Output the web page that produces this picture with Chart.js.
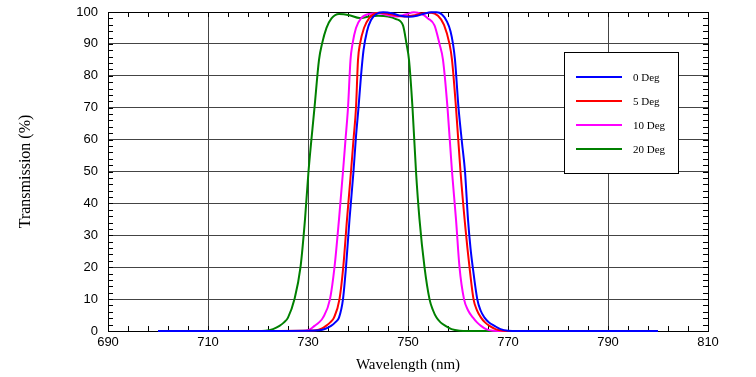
<!DOCTYPE html>
<html>
<head>
<meta charset="utf-8">
<script src="https://cdn.jsdelivr.net/npm/chart.js@4.4.0/dist/chart.umd.min.js"></script>
<style>
  html, body { margin: 0; padding: 0; background: #fff; }
</style>
</head>
<body>
<canvas id="filter-plot" width="756" height="377"></canvas>
<script>
const seriesLabels = ['0 Deg', '5 Deg', '10 Deg', '20 Deg'];
const seriesColors = ['#0000ff', '#ff0000', '#ff00ff', '#008000'];
const xTicks = [690, 710, 730, 750, 770, 790, 810];
const yTicks = [0, 10, 20, 30, 40, 50, 60, 70, 80, 90, 100];

// 0 Deg
const wl0 = [700, 725, 730, 732.3, 733.5, 734.6, 735.5, 736.2, 737.0, 737.6, 738.3, 739.1, 739.6, 740.1, 740.6, 741.1, 741.8, 742.6, 743.6, 745.0, 747.0, 748.5, 750.3, 751.8, 753.3, 754.7, 755.7, 756.8, 757.8, 758.5, 759.0, 759.4, 760.1, 760.8, 761.4, 762.0, 762.5, 762.95, 763.85, 764.5, 765.3, 766.2, 767.3, 768.5, 770, 772, 780, 800];
const tr0 = [0, 0, 0.05, 0.2, 0.7, 1.6, 2.8, 4.2, 10, 20, 35, 50, 61, 70, 80, 88, 94, 97.5, 99.3, 99.9, 99.5, 98.8, 98.5, 98.8, 99.5, 99.9, 99.9, 99.2, 97, 94, 90, 85, 70, 59, 50, 35, 26, 20, 10, 6.5, 4.2, 2.7, 1.6, 0.6, 0.1, 0, 0, 0];

// 5 Deg
const wl5 = [700, 724, 729, 731.6, 732.7, 733.6, 734.5, 735.2, 736.3, 737.05, 737.8, 738.6, 739.1, 739.6, 740.0, 740.4, 741.2, 742.2, 743.5, 744.3, 746.5, 749.3, 751.0, 753.0, 754.6, 756.0, 757.2, 758.3, 758.8, 759.6, 760.5, 761.5, 762.3, 763.1, 763.8, 764.6, 765.4, 766.3, 767.5, 769, 771, 780, 800];
const tr5 = [0, 0, 0.05, 0.2, 0.7, 1.6, 2.8, 4.2, 10, 20, 35, 50, 60, 70, 85, 90, 95, 98, 99.6, 99.8, 99.3, 98.6, 98.9, 99.6, 99.8, 98.8, 96, 90, 85, 70, 50, 32, 20, 10, 6.5, 4.2, 2.7, 1.6, 0.6, 0.1, 0, 0, 0];

// 10 Deg
const wl10 = [700, 722, 728, 729.6, 730.5, 731.3, 732.2, 733.0, 734.4, 735.3, 736.2, 737.0, 737.5, 738.0, 738.5, 738.9, 739.6, 740.6, 742.3, 744.0, 746.0, 747.8, 749.5, 751.2, 752.7, 754.0, 755.3, 756.3, 757.0, 757.9, 758.8, 759.6, 760.3, 761.2, 762.0, 763.0, 763.8, 764.6, 765.6, 767, 769, 780, 800];
const tr10 = [0, 0, 0.02, 0.1, 0.6, 1.6, 2.7, 4.2, 10, 20, 35, 50, 60, 70, 85, 90, 95, 98, 99.4, 99.6, 99.0, 98.6, 99.2, 99.9, 99.4, 98, 95.8, 90, 85, 70, 50, 35, 20, 10, 6.5, 4.2, 2.7, 1.6, 0.6, 0.1, 0, 0, 0];

// 20 Deg
const wl20 = [700, 716, 719.5, 721.5, 723.0, 724.3, 725.2, 726.0, 727.3, 728.5, 729.4, 730.1, 731.3, 732.2, 732.8, 733.7, 734.7, 736.2, 738.3, 740.3, 742.3, 744.0, 746.0, 747.6, 749.0, 749.7, 750.2, 750.9, 751.6, 752.3, 753.3, 754.3, 755.0, 755.7, 756.5, 757.5, 758.7, 760.3, 762, 780, 800];
const tr20 = [0, 0, 0.02, 0.1, 0.6, 1.6, 2.7, 4.2, 10, 20, 35, 50, 70, 85, 90, 95, 98, 99.4, 99.0, 98.1, 98.6, 98.8, 98.6, 97.8, 95.8, 90, 85, 70, 50, 35, 20, 10, 6.5, 4.2, 2.7, 1.6, 0.6, 0.1, 0, 0, 0];

const wavelengths = [wl0, wl5, wl10, wl20];
const transmissions = [tr0, tr5, tr10, tr20];

function toPoints(xs, ys) {
    return xs.map((x, i) => ({ x: x, y: ys[i] }));
}

// black frame plus small inward ticks on all four sides
const framePlugin = {
    id: 'frame',
    beforeDatasetsDraw(chart) {
        const { ctx, chartArea: a, scales } = chart;
        ctx.save();
        ctx.strokeStyle = '#000';
        ctx.lineWidth = 1;
        ctx.beginPath();
        for (let v = 690; v <= 810; v += 4) {
            const px = Math.round(scales.x.getPixelForValue(v)) + 0.5;
            ctx.moveTo(px, a.bottom);
            ctx.lineTo(px, a.bottom - 5);
            ctx.moveTo(px, a.top);
            ctx.lineTo(px, a.top + 5);
        }
        for (let v = 0; v <= 100; v += 2) {
            const py = Math.round(scales.y.getPixelForValue(v)) + 0.5;
            ctx.moveTo(a.left, py);
            ctx.lineTo(a.left + 5, py);
            ctx.moveTo(a.right, py);
            ctx.lineTo(a.right - 5, py);
        }
        ctx.stroke();
        ctx.strokeRect(Math.round(a.left) + 0.5, Math.round(a.top) + 0.5,
            Math.round(a.right - a.left), Math.round(a.bottom - a.top));
        ctx.restore();
    }
};

// boxed legend inside the plot, upper right
const boxLegendPlugin = {
    id: 'boxLegend',
    afterDraw(chart) {
        const ctx = chart.ctx;
        const left = 564, top = 52, w = 114, h = 121;
        ctx.save();
        ctx.fillStyle = '#fff';
        ctx.fillRect(left, top, w, h);
        ctx.strokeStyle = '#000';
        ctx.lineWidth = 1;
        ctx.strokeRect(left + 0.5, top + 0.5, w, h);
        ctx.font = '11px "Liberation Serif", serif';
        ctx.textBaseline = 'middle';
        ctx.textAlign = 'left';
        chart.data.datasets.forEach((ds, i) => {
            const y = 77 + i * 24;
            ctx.strokeStyle = ds.borderColor;
            ctx.lineWidth = 2;
            ctx.beginPath();
            ctx.moveTo(576, y);
            ctx.lineTo(622, y);
            ctx.stroke();
            ctx.fillStyle = '#000';
            ctx.fillText(ds.label, 633, y + 1);
        });
        ctx.restore();
    }
};

const ctx = document.getElementById('filter-plot').getContext('2d');
const chart = new Chart(ctx, {
    type: 'line',
    data: {
        datasets: seriesLabels.map((label, i) => ({
            label: label,
            data: toPoints(wavelengths[i], transmissions[i]),
            borderColor: seriesColors[i],
            backgroundColor: seriesColors[i],
            borderWidth: 2,
            pointRadius: 0,
            fill: false,
            cubicInterpolationMode: 'monotone',
            clip: false
        }))
    },
    options: {
        responsive: false,
        animation: false,
        layout: { padding: { top: 12, right: 48, left: 0, bottom: 0 } },
        plugins: {
            legend: { display: false },
            tooltip: { enabled: false }
        },
        scales: {
            x: {
                type: 'linear',
                min: 690,
                max: 810,
                afterBuildTicks: s => { s.ticks = xTicks.map(v => ({ value: v })); },
                afterFit: s => { s.height = 46; s.paddingLeft = 0; s.paddingRight = 0; },
                grid: { color: '#444', drawTicks: false },
                border: { color: '#000' },
                ticks: {
                    color: '#000',
                    padding: 4,
                    maxRotation: 0,
                    font: { family: '"Liberation Sans", Arial, sans-serif', size: 13 }
                },
                title: {
                    display: true,
                    text: 'Wavelength (nm)',
                    color: '#000',
                    padding: { top: 0, bottom: 3 },
                    font: { family: '"Liberation Serif", serif', size: 15 }
                }
            },
            y: {
                type: 'linear',
                min: 0,
                max: 100,
                afterBuildTicks: s => { s.ticks = yTicks.map(v => ({ value: v })); },
                afterFit: s => { s.width = 108; s.paddingTop = 0; s.paddingBottom = 0; },
                grid: { color: '#444', drawTicks: false },
                border: { color: '#000' },
                ticks: {
                    color: '#000',
                    padding: 10,
                    font: { family: '"Liberation Sans", Arial, sans-serif', size: 13 }
                },
                title: {
                    display: true,
                    text: 'Transmission (%)',
                    color: '#000',
                    padding: { top: 16, bottom: 0 },
                    font: { family: '"Liberation Serif", serif', size: 16 }
                }
            }
        }
    },
    plugins: [framePlugin, boxLegendPlugin]
});
</script>
</body>
</html>
